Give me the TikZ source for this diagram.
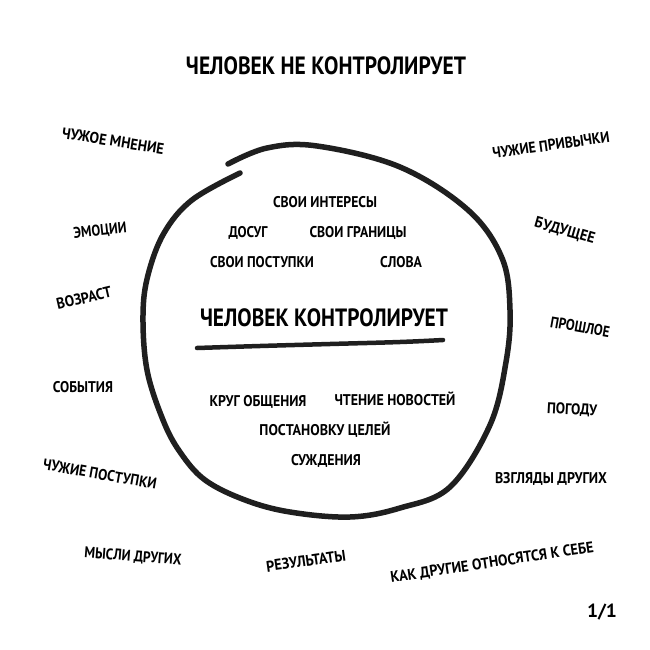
\documentclass[tikz,border=0pt]{standalone}
\usepackage{fontspec}
\usepackage{graphicx}
\setmainfont{PT Sans}
\newcommand{\fitw}[2]{\resizebox{#1pt}{\height}{#2}}
\tikzset{
  lbl/.style={inner sep=0pt, text height=11pt, text depth=0pt, font=\bfseries\fontsize{15.5}{15.5}\selectfont},
  big/.style={inner sep=0pt, text height=18pt, text depth=0pt, font=\bfseries\fontsize{25}{25}\selectfont},
  pen/.style={line width=5.5pt, line cap=round, line join=round, black!88}
}
\begin{document}
\begin{tikzpicture}[x=1pt,y=-1pt]
\useasboundingbox (0,0) rectangle (650,650);
% outline of the circle
\draw[pen] plot[smooth, tension=0.6] coordinates {(228,164) (267,148) (317,146) (400,167) (468,210) (502,258) (510,310) (506,362) (490,425) (450,487) (400,508) (350,517) (290,512) (245,500) (205,480) (180,452) (163,420) (147,370) (143,315) (148,275) (164,233) (192,200) (240,173)};
% underline
\draw[line width=4.5pt, line cap=round, black!88] plot[smooth, tension=0.7] coordinates {(197,348) (260,346) (330,344) (400,342) (443,340)};
% titles
\node[big] (t1) at (326,66) {\fitw{280}{ЧЕЛОВЕК НЕ КОНТРОЛИРУЕТ}};
\node[big] (t2) at (324,317) {\fitw{248}{ЧЕЛОВЕК КОНТРОЛИРУЕТ}};
% inner labels
\node[lbl] (i1) at (325,202) {\fitw{104}{СВОИ ИНТЕРЕСЫ}};
\node[lbl] (i2) at (248,232) {\fitw{39}{ДОСУГ}};
\node[lbl] (i3) at (358,232) {\fitw{97}{СВОИ ГРАНИЦЫ}};
\node[lbl] (i4) at (262,262) {\fitw{104}{СВОИ ПОСТУПКИ}};
\node[lbl] (i5) at (401,262) {\fitw{42}{СЛОВА}};
\node[lbl] (i6) at (258,401) {\fitw{97}{КРУГ ОБЩЕНИЯ}};
\node[lbl] (i7) at (395,400) {\fitw{121}{ЧТЕНИЕ НОВОСТЕЙ}};
\node[lbl] (i8) at (325,430) {\fitw{131}{ПОСТАНОВКУ ЦЕЛЕЙ}};
\node[lbl] (i9) at (326,460) {\fitw{70}{СУЖДЕНИЯ}};
% outer labels
\node[lbl, rotate=-9] (o1) at (113,141) {\fitw{103}{ЧУЖОЕ МНЕНИЕ}};
\node[lbl, rotate=6] (o2) at (100,230) {\fitw{53}{ЭМОЦИИ}};
\node[lbl, rotate=13] (o3) at (84,298) {\fitw{56}{ВОЗРАСТ}};
\node[lbl] (o4) at (83,387) {\fitw{60}{СОБЫТИЯ}};
\node[lbl, rotate=-10] (o5) at (100,474) {\fitw{115}{ЧУЖИЕ ПОСТУПКИ}};
\node[lbl, rotate=-4.5] (o6) at (133,556) {\fitw{97}{МЫСЛИ ДРУГИХ}};
\node[lbl, rotate=8] (o7) at (306,561) {\fitw{80}{РЕЗУЛЬТАТЫ}};
\node[lbl, rotate=8.5] (o8) at (492,562) {\fitw{205}{КАК ДРУГИЕ ОТНОСЯТСЯ К СЕБЕ}};
\node[lbl, rotate=8] (o9) at (551,145) {\fitw{118}{ЧУЖИЕ ПРИВЫЧКИ}};
\node[lbl, rotate=-16] (o10) at (565,230) {\fitw{62}{БУДУЩЕЕ}};
\node[lbl, rotate=-10] (o11) at (580,327) {\fitw{60}{ПРОШЛОЕ}};
\node[lbl, rotate=-3] (o12) at (572,409) {\fitw{50}{ПОГОДУ}};
\node[lbl] (o13) at (551,478) {\fitw{112}{ВЗГЛЯДЫ ДРУГИХ}};
\node[inner sep=0pt, text height=14pt, text depth=0pt, font=\bfseries\fontsize{19}{19}\selectfont] (pg) at (602,610) {\fitw{30}{1/1}};
\end{tikzpicture}
\end{document}
